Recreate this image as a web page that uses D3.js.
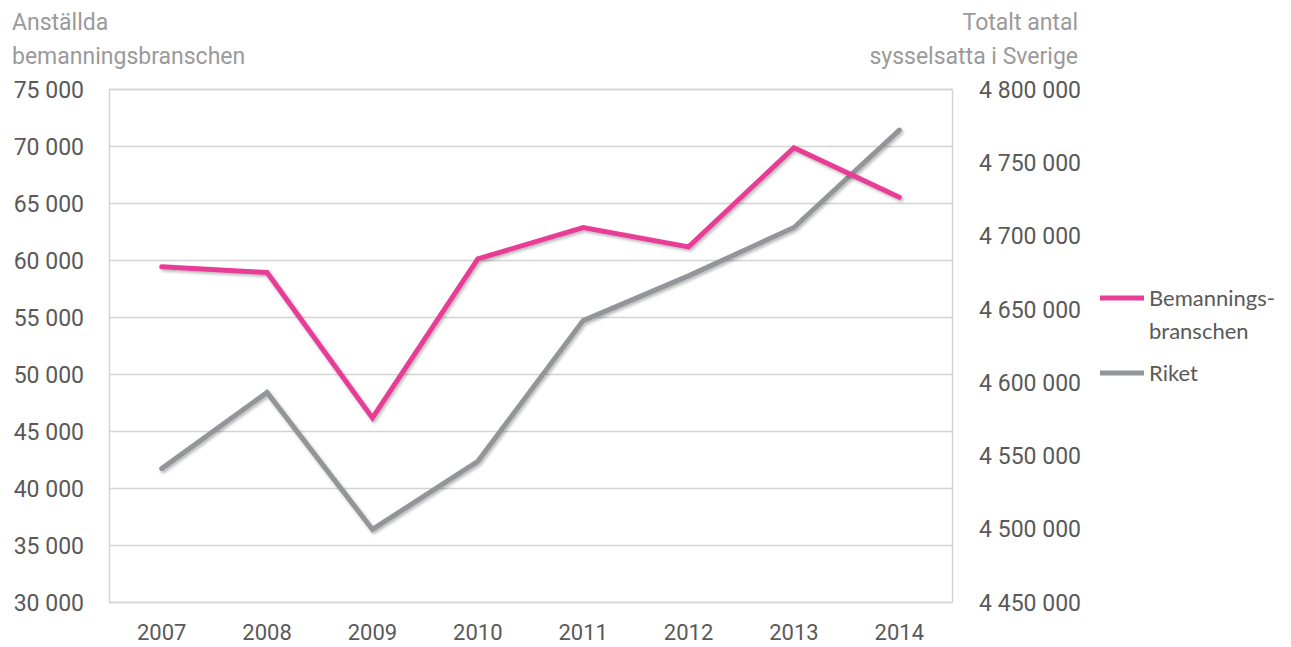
<!DOCTYPE html>
<html>
<head>
<meta charset="utf-8">
<script src="https://cdnjs.cloudflare.com/ajax/libs/d3/7.8.5/d3.min.js"></script>
<style>
  html, body { margin: 0; padding: 0; background: #fff; }
  svg { display: block; }
</style>
</head>
<body>
<svg id="chart" width="1291" height="647"></svg>
<script>
const years = ["2007","2008","2009","2010","2011","2012","2013","2014"];
const bemanning = [59400, 58900, 46150, 60100, 62850, 61150, 69850, 65500];
const riket = [4541000, 4593000, 4499500, 4546000, 4642000, 4672500, 4705500, 4772000];
const leftTicks = [30000, 35000, 40000, 45000, 50000, 55000, 60000, 65000, 70000, 75000];
const rightTicks = [4450000, 4500000, 4550000, 4600000, 4650000, 4700000, 4750000, 4800000];
const leftTitle = ["Anställda", "bemanningsbranschen"];
const rightTitle = ["Totalt antal", "sysselsatta i Sverige"];
const legendItems = [
  { lines: ["Bemannings-", "branschen"], color: "#E83E97" },
  { lines: ["Riket"], color: "#939598" }
];

const svg = d3.select("#chart");
const m = { left: 109, right: 952, top: 89, bottom: 602 };

const x = d3.scaleBand().domain(years).range([m.left, m.right]);
const yL = d3.scaleLinear().domain([30000, 75000]).range([m.bottom, m.top]);
const yR = d3.scaleLinear().domain([4450000, 4800000]).range([m.bottom, m.top]);

const fmt = v => d3.format(",")(v).replace(/,/g, " ");

const defs = svg.append("defs");
const f = defs.append("filter").attr("id", "shadow").attr("x", "-10%").attr("y", "-10%").attr("width", "120%").attr("height", "130%");
f.append("feDropShadow").attr("dx", 1.5).attr("dy", 2).attr("stdDeviation", 1.6).attr("flood-color", "#000").attr("flood-opacity", 0.28);

// gridlines
svg.append("g").selectAll("line").data(leftTicks).join("line")
  .attr("x1", m.left).attr("x2", m.right)
  .attr("y1", d => Math.round(yL(d)) + 0.5).attr("y2", d => Math.round(yL(d)) + 0.5)
  .attr("stroke", "#d4d4d4").attr("stroke-width", 1.5);
// plot border
svg.append("rect").attr("x", m.left + 0.5).attr("y", m.top + 0.5)
  .attr("width", m.right - m.left).attr("height", m.bottom - m.top)
  .attr("fill", "none").attr("stroke", "#d4d4d4").attr("stroke-width", 1.5);

const axisFont = "Roboto, 'Noto Sans', sans-serif";

// left axis
const leftAxis = d3.axisLeft(yL).tickValues(leftTicks).tickFormat(fmt).tickSize(0).tickPadding(0);
const gL = svg.append("g").attr("transform", `translate(84,0)`).call(leftAxis);
gL.select(".domain").remove();
gL.selectAll("text").attr("font-family", axisFont).attr("font-size", 23).attr("fill", "#595959")
  .attr("dy", "0.36em");

// right axis
const rightAxis = d3.axisRight(yR).tickValues(rightTicks).tickFormat(fmt).tickSize(0).tickPadding(0);
const gR = svg.append("g").attr("transform", `translate(1081,0)`).call(rightAxis);
gR.select(".domain").remove();
gR.selectAll("text").attr("font-family", axisFont).attr("font-size", 23).attr("fill", "#595959")
  .attr("text-anchor", "end").attr("dy", "0.36em");

// bottom axis
const bottomAxis = d3.axisBottom(x).tickSize(0).tickPadding(0);
const gB = svg.append("g").attr("transform", `translate(0,${m.bottom})`).call(bottomAxis);
gB.select(".domain").remove();
gB.selectAll("text").attr("font-family", axisFont).attr("font-size", 22).attr("fill", "#595959")
  .attr("dy", null).attr("y", 38);

// titles
svg.append("text").attr("font-family", axisFont).attr("font-size", 23).attr("fill", "#9a9a9a")
  .selectAll("tspan").data(leftTitle).join("tspan")
  .attr("x", 12).attr("y", (d, i) => 30 + i * 34).text(d => d);
svg.append("text").attr("font-family", axisFont).attr("font-size", 23).attr("fill", "#9a9a9a")
  .attr("text-anchor", "end")
  .selectAll("tspan").data(rightTitle).join("tspan")
  .attr("x", 1078).attr("y", (d, i) => 30 + i * 34).text(d => d);

// lines
const cx = d => x(d) + x.bandwidth() / 2;
const lineL = d3.line().x((d, i) => cx(years[i])).y(d => yL(d));
const lineR = d3.line().x((d, i) => cx(years[i])).y(d => yR(d));

svg.append("path").datum(riket).attr("d", lineR)
  .attr("fill", "none").attr("stroke", "#939598").attr("stroke-width", 5)
  .attr("stroke-linecap", "round").attr("stroke-linejoin", "miter").attr("filter", "url(#shadow)");
svg.append("path").datum(bemanning).attr("d", lineL)
  .attr("fill", "none").attr("stroke", "#E83E97").attr("stroke-width", 5)
  .attr("stroke-linecap", "round").attr("stroke-linejoin", "miter").attr("filter", "url(#shadow)");

// legend
const legendFont = "Lato, 'Open Sans', sans-serif";
const legY = [298, 373];
const lg = svg.append("g");
legendItems.forEach((it, i) => {
  lg.append("line").attr("x1", 1100).attr("x2", 1144).attr("y1", legY[i]).attr("y2", legY[i])
    .attr("stroke", it.color).attr("stroke-width", 5);
  lg.append("text").attr("font-family", legendFont).attr("font-size", 22).attr("fill", "#595959")
    .selectAll("tspan").data(it.lines).join("tspan")
    .attr("x", 1149).attr("y", (d, j) => legY[i] + 8 + j * 33).text(d => d);
});
</script>
</body>
</html>
